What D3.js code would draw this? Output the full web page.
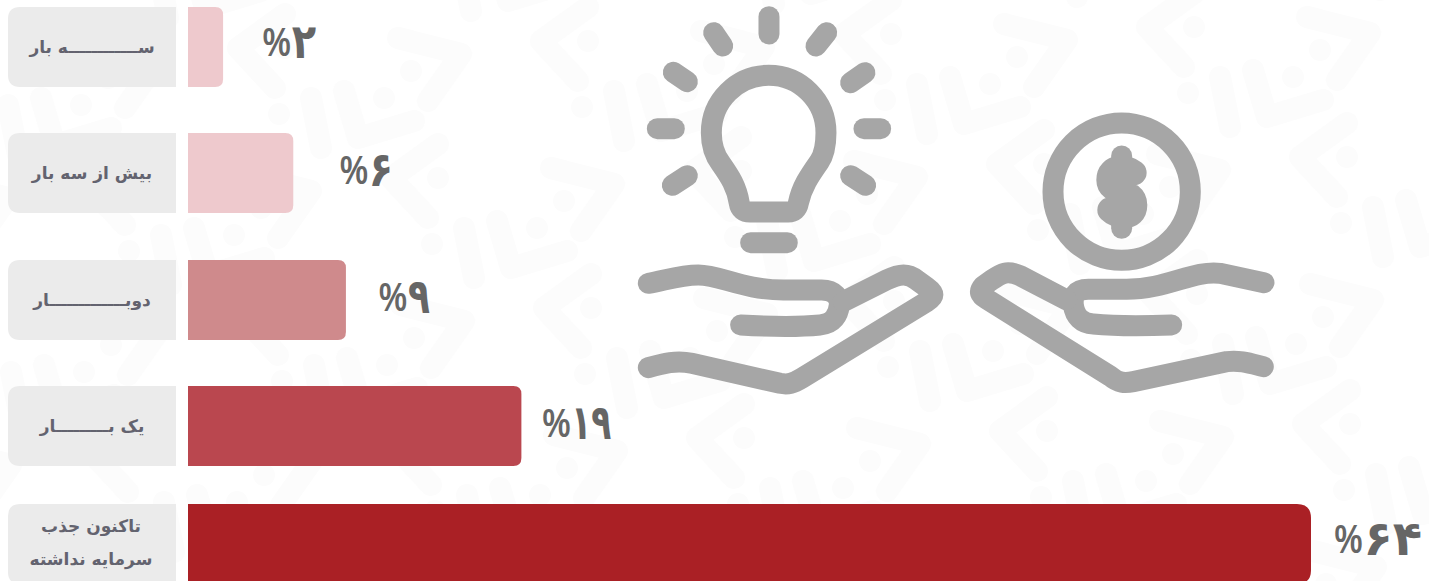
<!DOCTYPE html>
<html lang="fa"><head><meta charset="utf-8">
<script src="https://cdn.jsdelivr.net/npm/d3@7/dist/d3.min.js"></script>
<style>html,body{margin:0;padding:0;background:#fff;overflow:hidden}svg{display:block}</style>
</head><body><div id="chart"></div>
<script>
const categories = ["سه بار","بیش از سه بار","دو بار","یک بار","تاکنون جذب سرمایه نداشته"];
const labelLines = [["ســــــــــــه بار"],["بیش از سه بار"],["دوبـــــــــــــار"],["یک بـــــــــار"],["تاکنون جذب","سرمایه نداشته"]];
const values = [2,6,9,19,64];
const valueDigits = ["۲","۶","۹","۱۹","۶۴"];
const barColors = ["#eec9cd","#eec9cd","#cf8a8c","#ba474f","#aa2025"];

const W=1429,H=581;
const svg=d3.select("#chart").append("svg").attr("width",W).attr("height",H);

// faint watermark
const wm=svg.append("g").attr("fill","none").attr("stroke","#fcfcfc").attr("stroke-width",22).attr("stroke-linecap","round").attr("stroke-linejoin","round");
const glyph=["M1307,17L1370,33L1337,80","M1220,77L1230,127","M1253,70L1267,117L1323,100","M1347,123L1300,157L1337,197"];
const dots=[[1320,50],[1293,77],[1188,93],[1347,157]];
for(let i=-12;i<=12;i++)for(let j=-6;j<=6;j++){
  const dx=i*153+j*3,dy=i*130+j*267;
  if(dx<-1500||dx>400||dy<-250||dy>620)continue;
  const g=wm.append("g").attr("transform",`translate(${dx},${dy})`);
  glyph.forEach(d=>g.append("path").attr("d",d));
  dots.forEach(p=>g.append("circle").attr("cx",p[0]).attr("cy",p[1]).attr("r",11).attr("fill","#fcfcfc").attr("stroke","none"));
}

const x=d3.scaleLinear().domain([0,64]).range([188,1311]);
const rowTop=d3.scaleOrdinal().domain(categories).range([7,133,260,386,504]);
const rowH=80;
const valueEnd=d3.scaleOrdinal().domain(categories).range([93,100,84,90,111]);
const digitScale=d3.scaleOrdinal().domain(categories).range([1,1,.9,.82,1.2]);

function rounded(x0,y,w,h,rl,rr){
  return `M${x0+rl},${y}H${x0+w-rr}Q${x0+w},${y} ${x0+w},${y+rr}V${y+h-rr}Q${x0+w},${y+h} ${x0+w-rr},${y+h}H${x0+rl}Q${x0},${y+h} ${x0},${y+h-rl}V${y+rl}Q${x0},${y} ${x0+rl},${y}Z`;
}
const rows=svg.append("g").selectAll("g").data(categories).join("g");
rows.append("path").attr("fill","#ebebeb").attr("d",c=>rounded(8,rowTop(c),168,rowH,12,0));
rows.append("path").attr("fill",(c,i)=>barColors[i]).attr("d",(c,i)=>rounded(x(0),rowTop(c),x(values[i])-x(0),rowH,0,i==4?14:8));
rows.each(function(c,i){
  const g=d3.select(this),ls=labelLines[i],lh=33;
  ls.forEach((t,k)=>{
    g.append("text").attr("x",i==4?91:92).attr("y",rowTop(c)+rowH/2+(k-(ls.length-1)/2)*lh+(i==4?-1:1))
     .attr("text-anchor","middle").attr("dominant-baseline","middle").attr("direction","rtl")
     .attr("font-family","DejaVu Sans").attr("font-weight","bold").attr("font-size",17).attr("fill","#63636f").text(t);
  });
  const endX=x(values[i])+valueEnd(c), cy=rowTop(c)+rowH/2+(i==0||i==4?-2:0), sx=digitScale(c);
  const dg=g.append("text").attr("transform",`translate(${endX},${cy}) scale(${sx},1.2)`)
   .attr("text-anchor","end").attr("dominant-baseline","middle")
   .attr("font-family","DejaVu Sans").attr("font-weight","bold").attr("font-size",40).attr("fill","#666666").text(valueDigits[i]);
  const w=dg.node().getComputedTextLength()*sx;
  g.append("text").attr("transform",`translate(${endX-w-1},${cy}) scale(.85,1.12)`)
   .attr("text-anchor","end").attr("dominant-baseline","middle")
   .attr("font-family","Liberation Sans").attr("font-weight","bold").attr("font-size",37).attr("fill","#666666").text("%");
});

// icons (drawn at 3x, scaled down)
const ICON="#a6a6a6";
const left=svg.append("g").attr("transform","translate(630,0) scale(0.3333)").attr("fill","none").attr("stroke",ICON).attr("stroke-width",63).attr("stroke-linecap","round").attr("stroke-linejoin","round");
["M360,636L475,636Q500,636 505,610C515,560 540,525 568,485C585,460 588,430 588,398A172,172 0 1 0 244,398C244,430 250,460 272,490C300,530 320,560 328,610Q332,636 360,636Z",
 "M362,728L472,728","M417,50L417,102","M251,98L278,138","M590,98L558,138","M130,217L172,245","M705,218L662,248",
 "M82,386L133,386","M702,386L752,386","M172,527L127,556","M662,527L707,556",
 "M55,850C100,843 150,825 205,825C270,825 340,870 460,870L575,870C615,870 630,895 628,915C625,945 610,972 570,975C500,982 420,980 332,975",
 "M640,905L770,840C810,820 835,820 860,840L890,862C915,880 915,890 890,905L515,1135C490,1150 475,1155 450,1150L185,1090C140,1080 100,1090 55,1103"
].forEach(d=>left.append("path").attr("d",d));
const right=svg.append("g").attr("transform","translate(960,100) scale(0.3333)").attr("fill","none").attr("stroke",ICON).attr("stroke-width",63).attr("stroke-linecap","round").attr("stroke-linejoin","round");
right.append("circle").attr("cx",485).attr("cy",275).attr("r",206);
right.append("path").attr("d","M522,218C500,202 447,195 447,240C447,285 524,265 524,315C524,360 470,350 450,330").attr("stroke-width",76);
right.append("path").attr("d","M485,168L485,385");
["M912,548L780,520C700,510 620,568 500,568L385,568C345,568 338,590 340,615C345,650 365,670 400,672C480,680 560,678 635,675",
 "M320,600L180,527C140,510 125,520 95,540L70,558C55,575 60,585 80,597L450,828C475,850 495,850 520,845L800,785C840,780 870,790 910,800"
].forEach(d=>right.append("path").attr("d",d));
</script></body></html>
